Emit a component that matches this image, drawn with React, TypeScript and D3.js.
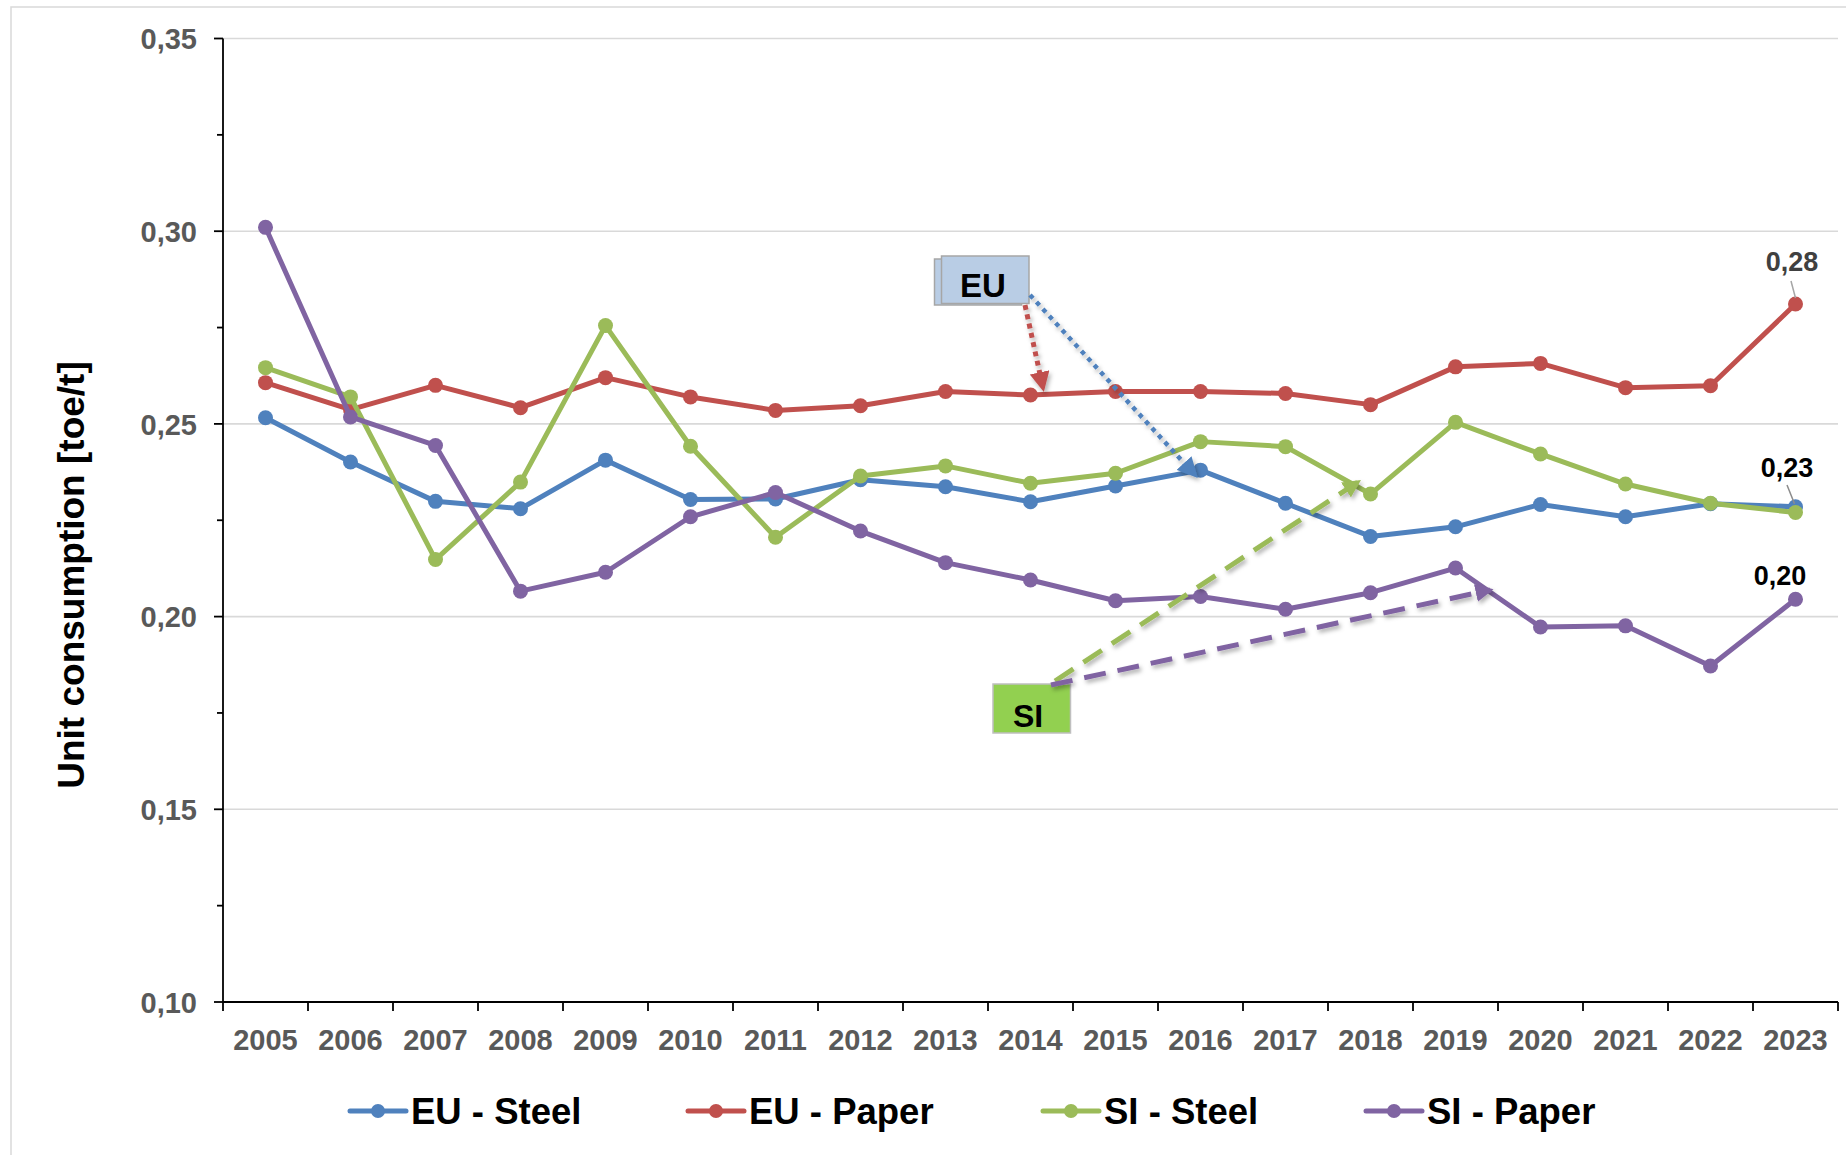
import React from "react";
import * as d3 from "d3";

const years = ["2005","2006","2007","2008","2009","2010","2011","2012","2013","2014","2015","2016","2017","2018","2019","2020","2021","2022","2023"];
const euSteel = [0.2516,0.2401,0.2299,0.2280,0.2406,0.2304,0.2305,0.2355,0.2337,0.2298,0.2339,0.2380,0.2294,0.2208,0.2233,0.2291,0.2259,0.2293,0.2285];
const euPaper = [0.2607,0.2537,0.2600,0.2542,0.2620,0.2570,0.2535,0.2547,0.2584,0.2575,0.2584,0.2584,0.2579,0.2550,0.2648,0.2657,0.2594,0.2599,0.2811];
const siSteel = [0.2646,0.2570,0.2148,0.2349,0.2755,0.2442,0.2206,0.2365,0.2391,0.2346,0.2372,0.2454,0.2441,0.2318,0.2504,0.2422,0.2344,0.2294,0.2270];
const siPaper = [0.3010,0.2518,0.2444,0.2066,0.2115,0.2259,0.2322,0.2222,0.2140,0.2095,0.2041,0.2052,0.2019,0.2062,0.2126,0.1973,0.1976,0.1872,0.2045];
const seriesNames = ["EU - Steel","EU - Paper","SI - Steel","SI - Paper"];
const seriesColors = ["#4F81BD","#C0504D","#9BBB59","#8064A2"];
const yTicks = [0.10,0.15,0.20,0.25,0.30,0.35];
const yMinorTicks = [0.125,0.175,0.225,0.275,0.325];

const FONT = "'Liberation Sans', Arial, sans-serif";

export default function App() {
  const W = 1846, H = 1155;
  const left = 223, right = 1838, top = 38.5, bottom = 1002;
  const x = d3.scaleBand().domain(years).range([left, right]);
  const y = d3.scaleLinear().domain([0.10, 0.35]).range([bottom, top]);
  const cx = (yr: string) => (x(yr) as number) + x.bandwidth() / 2;
  const series = [euSteel, euPaper, siSteel, siPaper];
  const line = d3.line<number>().x((_, i) => cx(years[i])).y((d) => y(d));
  const fmt = (v: number) => v.toFixed(2).replace(".", ",");

  const legendX = [350, 688, 1043, 1366];
  const legendY = 1111;
  const last = years.length - 1;

  return (
    <svg width={W} height={H} style={{ position: "absolute", left: 0, top: 0, background: "#fff" }} fontFamily={FONT}>
      <defs>
        <marker id="arrRed" viewBox="0 0 10 10" refX="8" refY="5" markerWidth="4" markerHeight="4" orient="auto" markerUnits="strokeWidth">
          <path d="M0,0 L10,5 L0,10 z" fill="#C0504D" />
        </marker>
        <marker id="arrBlue" viewBox="0 0 10 10" refX="8" refY="5" markerWidth="4.5" markerHeight="4.5" orient="auto" markerUnits="strokeWidth">
          <path d="M0,0 L10,5 L0,10 z" fill="#4F81BD" />
        </marker>
        <marker id="arrGreen" viewBox="0 0 10 10" refX="8" refY="5" markerWidth="3.6" markerHeight="3.6" orient="auto" markerUnits="strokeWidth">
          <path d="M0,0 L10,5 L0,10 z" fill="#9BBB59" />
        </marker>
        <marker id="arrPurple" viewBox="0 0 10 10" refX="8" refY="5" markerWidth="3.6" markerHeight="3.6" orient="auto" markerUnits="strokeWidth">
          <path d="M0,0 L10,5 L0,10 z" fill="#8064A2" />
        </marker>
        <filter id="shadow" x="-20%" y="-20%" width="140%" height="140%">
          <feDropShadow dx="2" dy="3" stdDeviation="2" floodColor="#000" floodOpacity="0.3" />
        </filter>
      </defs>
      <rect x={11} y={7} width={W} height={H} fill="#fff" stroke="#d9d9d9" strokeWidth={1.5} />

      {/* gridlines */}
      {yTicks.filter((t) => t > 0.1).map((t) => (
        <line key={"g" + t} x1={left} x2={right} y1={y(t)} y2={y(t)} stroke="#d9d9d9" strokeWidth={1.6} />
      ))}

      {/* y axis */}
      <line x1={left} x2={left} y1={top} y2={bottom} stroke="#000" strokeWidth={1.8} />
      {yTicks.map((t) => (
        <g key={"yt" + t}>
          <line x1={left - 9} x2={left} y1={y(t)} y2={y(t)} stroke="#000" strokeWidth={1.8} />
          <text x={197} y={y(t) + 10.8} textAnchor="end" fontSize={29} fontWeight="bold" fill="#595959">{fmt(t)}</text>
        </g>
      ))}
      {yMinorTicks.map((t) => (
        <line key={"ym" + t} x1={left - 6} x2={left} y1={y(t)} y2={y(t)} stroke="#000" strokeWidth={1.8} />
      ))}

      {/* x axis */}
      <line x1={left} x2={right} y1={bottom} y2={bottom} stroke="#000" strokeWidth={1.8} />
      {years.map((yr) => (
        <line key={"xt" + yr} x1={x(yr) as number} x2={x(yr) as number} y1={bottom} y2={bottom + 9} stroke="#000" strokeWidth={1.8} />
      ))}
      <line x1={right} x2={right} y1={bottom} y2={bottom + 9} stroke="#000" strokeWidth={1.8} />
      {years.map((yr) => (
        <text key={"xl" + yr} x={cx(yr)} y={1049.5} textAnchor="middle" fontSize={29} fontWeight="bold" fill="#595959">{yr}</text>
      ))}

      {/* y label */}
      <text transform="translate(84,575) rotate(-90)" textAnchor="middle" fontSize={37} fontWeight="bold" fill="#000">Unit consumption [toe/t]</text>

      {/* series */}
      {series.map((s, si) => (
        <g key={"s" + si}>
          <path d={line(s) as string} fill="none" stroke={seriesColors[si]} strokeWidth={5} strokeLinejoin="round" />
          {s.map((v, i) => (
            <circle key={i} cx={cx(years[i])} cy={y(v)} r={7.5} fill={seriesColors[si]} />
          ))}
        </g>
      ))}

      {/* data labels */}
      <line x1={1791} y1={281} x2={cx(years[last]) } y2={y(euPaper[last]) - 6} stroke="#a6a6a6" strokeWidth={1.5} />
      <text x={1792} y={271} textAnchor="middle" fontSize={27} fontWeight="bold" fill="#404040">{fmt(euPaper[last])}</text>
      <line x1={1787} y1={485} x2={cx(years[last]) - 1} y2={y(euSteel[last]) - 3} stroke="#8c8c8c" strokeWidth={1.5} />
      <text x={1787} y={477} textAnchor="middle" fontSize={27} fontWeight="bold" fill="#000">{fmt(euSteel[last])}</text>
      <text x={1780} y={585} textAnchor="middle" fontSize={27} fontWeight="bold" fill="#000">{fmt(siPaper[last])}</text>

      {/* EU annotation */}
      <rect x={934.5} y={259} width={87} height={46} fill="#B9CDE5" stroke="#A6A6A6" strokeWidth={1.5} />
      <rect x={941.5} y={256} width={87.5} height={47.5} fill="#B9CDE5" stroke="#A6A6A6" strokeWidth={1.5} />
      <text x={983} y={297} textAnchor="middle" fontSize={33} fontWeight="bold" fill="#000">EU</text>
      <g filter="url(#shadow)">
        <line x1={1025} y1={305} x2={1043} y2={388} stroke="#C0504D" strokeWidth={5} strokeDasharray="5 4.5" markerEnd="url(#arrRed)" />
        <line x1={1030} y1={295} x2={1195} y2={475} stroke="#4F81BD" strokeWidth={4.5} strokeDasharray="4.5 5" markerEnd="url(#arrBlue)" />
      </g>

      {/* SI annotation */}
      <rect x={993} y={684} width={77.5} height={49} fill="#92D050" stroke="#BFBFBF" strokeWidth={1.5} />
      <text x={1028} y={727} textAnchor="middle" fontSize={32} fontWeight="bold" fill="#000">SI</text>
      <g filter="url(#shadow)">
        <line x1={1055} y1={681} x2={1358} y2={482} stroke="#9BBB59" strokeWidth={5} strokeDasharray="22 12" markerEnd="url(#arrGreen)" />
        <line x1={1051} y1={685} x2={1490} y2={590} stroke="#8064A2" strokeWidth={5} strokeDasharray="22 12" markerEnd="url(#arrPurple)" />
      </g>

      {/* legend */}
      {seriesNames.map((n, i) => (
        <g key={"lg" + i}>
          <line x1={legendX[i]} x2={legendX[i] + 56} y1={legendY} y2={legendY} stroke={seriesColors[i]} strokeWidth={5} strokeLinecap="round" />
          <circle cx={legendX[i] + 28} cy={legendY} r={7} fill={seriesColors[i]} />
          <text x={legendX[i] + 61} y={1124} fontSize={36.5} fontWeight="bold" fill="#000">{n}</text>
        </g>
      ))}
    </svg>
  );
}
